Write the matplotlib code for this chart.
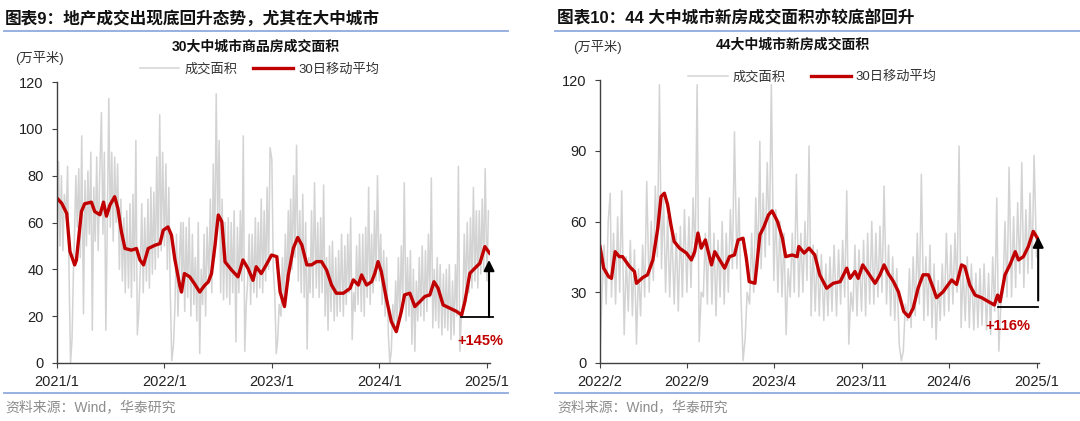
import matplotlib
matplotlib.use('Agg')
import matplotlib.pyplot as plt
from matplotlib.lines import Line2D
import numpy as np
import pandas as pd

plt.rcParams['font.family'] = ['Liberation Sans', 'Noto Sans CJK SC']

# ---------------- 图表9: 30大中城市 ----------------
# daily area every 5 days (6 per month), from 2021-01
grey9 = [
    55, 86, 50, 80, 48, 72,   # 2021-01
    62, 84, 38, 0, 10, 40,
    52, 80, 58, 83, 45, 97,
    21, 78, 50, 82, 55, 90,
    14, 75, 52, 88, 48, 80,
    107, 55, 90, 14, 60, 113,
    58, 90, 52, 88, 60, 85,
    40, 70, 35, 62, 30, 65,
    32, 68, 28, 72, 35, 95,
    12, 22, 40, 68, 30, 62,
    35, 70, 32, 75, 38, 73,
    40, 88, 45, 106, 48, 90,
    50, 85, 40, 75, 30, 1,    # 2022-01
    8, 25, 55, 20, 45, 60,
    30, 60, 22, 58, 28, 62,
    20, 55, 25, 45, 18, 60,
    4, 40, 25, 55, 20, 58,
    35, 70, 30, 85, 45, 115,
    60, 95, 30, 70, 27, 60,
    28, 62, 25, 60, 30, 65,
    9, 58, 30, 65, 35, 97,
    5, 25, 35, 55, 25, 55,
    30, 62, 28, 60, 32, 70,
    30, 65, 35, 75, 40, 92,
    87, 40, 30, 4, 10, 25,    # 2023-01
    20, 45, 25, 55, 30, 65,
    35, 70, 40, 80, 45, 93,
    35, 65, 30, 72, 28, 60,
    6, 45, 30, 65, 28, 77,
    32, 60, 28, 62, 30, 76,
    20, 45, 14, 50, 22, 52,
    18, 45, 20, 48, 22, 55,
    20, 50, 25, 55, 30, 62,
    10, 30, 22, 50, 25, 55,
    22, 55, 20, 58, 28, 75,
    25, 55, 30, 65, 35, 80,
    35, 55, 25, 48, 20, 45,   # 2024-01
    12, 0, 5, 25, 15, 35,
    15, 45, 20, 50, 25, 77,
    18, 45, 20, 48, 8, 40,
    5, 35, 18, 45, 20, 50,
    18, 48, 22, 55, 28, 79,
    15, 40, 18, 45, 15, 42,
    12, 38, 15, 40, 14, 42,
    10, 35, 12, 42, 20, 84,
    5, 20, 25, 55, 28, 60,
    30, 62, 32, 75, 35, 65,
    32, 65, 38, 70, 40, 83,
    35, 65,                   # 2025-01
]
grey9_start = '2021-01-01'

ma9_dates = [
    '2021-01-01', '2021-01-17', '2021-02-03', '2021-02-14', '2021-03-02', '2021-03-08',
    '2021-03-25', '2021-04-05', '2021-04-28', '2021-05-09', '2021-05-27', '2021-06-08',
    '2021-06-18', '2021-06-30', '2021-07-16', '2021-07-27', '2021-08-08', '2021-08-20',
    '2021-09-11', '2021-09-28', '2021-10-10', '2021-10-22', '2021-11-07', '2021-11-30',
    '2021-12-17', '2021-12-28', '2022-01-13', '2022-01-25', '2022-02-05', '2022-02-22',
    '2022-02-28', '2022-03-10', '2022-03-28', '2022-04-13', '2022-05-01', '2022-05-18',
    '2022-05-30', '2022-06-10', '2022-06-22', '2022-07-03', '2022-07-15', '2022-07-26',
    '2022-08-18', '2022-09-08', '2022-09-25', '2022-10-12', '2022-10-29', '2022-11-09',
    '2022-11-26', '2022-12-13', '2022-12-31', '2023-01-18', '2023-01-29', '2023-02-13',
    '2023-02-26', '2023-03-15', '2023-03-30', '2023-04-13', '2023-04-30', '2023-05-16',
    '2023-06-02', '2023-06-19', '2023-07-06', '2023-07-23', '2023-08-08', '2023-09-01',
    '2023-09-24', '2023-10-05', '2023-10-22', '2023-11-02', '2023-11-19', '2023-12-06',
    '2023-12-17', '2023-12-28', '2024-01-08', '2024-01-25', '2024-02-11', '2024-02-28',
    '2024-03-16', '2024-03-27', '2024-04-14', '2024-05-01', '2024-05-18', '2024-06-04',
    '2024-06-21', '2024-07-05', '2024-07-19', '2024-08-05', '2024-08-28', '2024-09-20',
    '2024-10-07', '2024-10-18', '2024-11-04', '2024-11-21', '2024-12-08', '2024-12-25',
    '2025-01-10',
]
ma9 = [
    70.4, 68.2, 63.9, 47.6, 41.9, 44.0, 64.7, 68.0, 68.7, 64.7, 63.3, 68.7,
    62.7, 67.5, 71.0, 66.0, 56.0, 48.9, 48.2, 48.9, 44.0, 41.9, 48.9, 50.3,
    51.0, 56.7, 58.1, 54.6, 44.6, 33.2, 30.3, 38.2, 36.8, 33.9, 30.3, 33.2,
    34.6, 38.2, 50.3, 63.2, 60.4, 43.2, 39.6, 36.8, 44.0, 40.4, 35.3, 41.1,
    38.2, 41.9, 46.1, 45.4, 30.4, 24.1, 37.6, 49.0, 53.6, 50.4, 41.9, 41.9,
    43.3, 43.3, 39.7, 33.3, 29.8, 29.8, 31.9, 35.5, 33.3, 37.6, 33.3, 34.7,
    38.3, 43.3, 39.0, 27.6, 17.7, 13.4, 22.0, 29.1, 29.8, 24.1, 26.2, 28.4,
    29.1, 34.7, 31.9, 24.8, 23.4, 22.0, 20.5, 26.2, 38.3, 40.5, 42.6, 49.7,
    46.9,
]
ticks9 = ['2021-01-01', '2022-01-01', '2023-01-01', '2024-01-01', '2025-01-01']
ticklabels9 = ['2021/1', '2022/1', '2023/1', '2024/1', '2025/1']
# rise marker: base level, arrow top, dates of the bracket
lift9 = (19.6, 44.0)
lift9_dates = ('2024-10-05', '2025-01-08', '2025-01-23')

# ---------------- 图表10: 44大中城市 ----------------
grey10 = [
    3, 30, 50, 25, 60, 72,    # 2022-02
    28, 55, 25, 62, 30, 73,
    12, 45, 22, 52, 20, 48,
    8, 40, 20, 50, 28, 77,
    30, 60, 35, 75, 45, 118,
    40, 70, 30, 62, 28, 58,
    25, 55, 22, 58, 28, 65,
    30, 62, 32, 70, 45, 118,
    9, 30, 28, 55, 25, 70,
    25, 55, 20, 52, 28, 60,
    25, 55, 30, 65, 40, 98,
    40, 70, 28, 1, 10, 30,    # 2023-01
    25, 55, 30, 70, 40, 94,
    40, 72, 45, 85, 50, 118,
    35, 65, 30, 60, 28, 55,
    12, 40, 28, 55, 30, 80,
    28, 55, 30, 60, 35, 92,
    20, 50, 22, 48, 20, 46,
    18, 42, 20, 45, 22, 50,
    20, 48, 25, 52, 28, 73,
    8, 30, 22, 50, 20, 48,
    22, 52, 20, 55, 25, 60,
    25, 55, 28, 58, 30, 75,
    25, 50, 20, 45, 18, 40,   # 2024-01
    8, 1, 5, 25, 18, 40,
    15, 45, 20, 55, 25, 80,
    18, 45, 20, 50, 15, 42,
    10, 35, 18, 42, 20, 55,
    22, 50, 25, 55, 30, 92,
    15, 40, 18, 45, 15, 42,
    14, 38, 15, 40, 16, 42,
    14, 38, 12, 45, 22, 70,
    5, 25, 30, 60, 28, 83,
    28, 62, 32, 68, 38, 85,
    32, 65, 38, 72, 40, 88,
    45,                       # 2025-01
]
grey10_start = '2022-02-01'

ma10_dates = [
    '2022-02-01', '2022-02-10', '2022-02-22', '2022-03-01', '2022-03-10', '2022-03-20',
    '2022-03-28', '2022-04-14', '2022-04-26', '2022-05-01', '2022-05-16', '2022-05-28',
    '2022-06-10', '2022-06-22', '2022-06-30', '2022-07-08', '2022-07-16', '2022-07-24',
    '2022-08-01', '2022-08-14', '2022-08-31', '2022-09-12', '2022-09-20', '2022-09-28',
    '2022-10-06', '2022-10-16', '2022-10-31', '2022-11-08', '2022-11-20', '2022-12-02',
    '2022-12-14', '2022-12-26', '2023-01-04', '2023-01-16', '2023-01-24', '2023-01-31',
    '2023-02-14', '2023-02-26', '2023-03-08', '2023-03-19', '2023-03-28', '2023-04-10',
    '2023-04-22', '2023-04-30', '2023-05-16', '2023-05-28', '2023-06-01', '2023-06-14',
    '2023-06-26', '2023-07-10', '2023-07-22', '2023-08-08', '2023-08-24', '2023-09-10',
    '2023-09-26', '2023-10-04', '2023-10-16', '2023-10-24', '2023-11-04', '2023-11-18',
    '2023-12-04', '2023-12-16', '2023-12-26', '2024-01-05', '2024-01-18', '2024-01-30',
    '2024-02-12', '2024-02-24', '2024-03-06', '2024-03-18', '2024-03-30', '2024-04-12',
    '2024-04-24', '2024-05-02', '2024-05-18', '2024-05-30', '2024-06-08', '2024-06-20',
    '2024-07-02', '2024-07-10', '2024-07-22', '2024-08-04', '2024-08-20', '2024-09-06',
    '2024-09-20', '2024-09-28', '2024-10-04', '2024-10-16', '2024-10-28', '2024-11-10',
    '2024-11-18', '2024-11-30', '2024-12-12', '2024-12-24', '2025-01-03',
]
ma10 = [
    49.4, 40.2, 36.6, 35.9, 47.2, 45.1, 45.1, 40.9, 38.8, 33.8, 36.2, 37.4,
    43.7, 57.2, 70.6, 72.0, 67.1, 58.6, 51.5, 48.7, 46.6, 43.7, 47.2, 55.1,
    48.7, 52.2, 41.6, 47.2, 43.7, 40.2, 45.1, 45.8, 52.2, 52.9, 44.4, 34.5,
    33.8, 54.3, 57.8, 62.8, 64.5, 60.0, 52.9, 45.1, 45.8, 45.1, 49.4, 46.6,
    48.7, 45.8, 37.4, 31.7, 33.8, 34.5, 40.2, 35.9, 38.8, 35.9, 41.6, 38.0,
    33.8, 37.4, 41.6, 38.0, 34.5, 30.2, 21.8, 19.6, 23.2, 31.7, 37.4, 37.4,
    31.7, 27.7, 30.2, 33.1, 35.2, 33.3, 41.6, 40.9, 33.1, 28.8, 27.7, 26.0,
    24.6, 28.8, 26.0, 37.4, 41.6, 47.2, 43.7, 45.1, 49.4, 55.8, 53.0,
]
ticks10 = ['2022-02-01', '2022-09-01', '2023-04-01', '2023-11-01', '2024-06-01', '2025-01-01']
ticklabels10 = ['2022/2', '2022/9', '2023/4', '2023/11', '2024/6', '2025/1']
lift10 = (23.6, 26.5, 53.6)
lift10_dates = ('2024-09-29', '2025-01-05', '2025-01-05')

GREY = '#d3d3d3'
RED = '#c00000'
AXC = '#404040'
BLUE = '#8faadc'


def grey_dates(start, n):
    # six readings per month, on days 1, 6, 11, 16, 21, 26
    months = pd.date_range(start, periods=n // 6 + 1, freq='MS')
    return [months[i // 6] + pd.Timedelta(days=5 * (i % 6)) for i in range(n)]


def style_axis(ax, yticks, ticks, labels):
    ax.set_ylim(0, 120)
    ax.set_yticks(yticks)
    ax.set_xticks(pd.to_datetime(ticks))
    ax.set_xticklabels(labels)
    for s in ['top', 'right']:
        ax.spines[s].set_visible(False)
    for s in ['left', 'bottom']:
        ax.spines[s].set_color(AXC)
        ax.spines[s].set_linewidth(1.0)
    ax.tick_params(axis='y', direction='out', length=3.5, width=0.8, color=AXC,
                   labelsize=10.5, pad=6, labelcolor='#222222')
    ax.tick_params(axis='x', direction='out', length=3.5, width=0.8, color=AXC,
                   labelsize=10.5, pad=5, labelcolor='#222222')


fig = plt.figure(figsize=(10.8, 4.21), dpi=100)

# ---- left panel ----
ax1 = fig.add_axes([57 / 1080, 58 / 421, 432.6 / 1080, 281 / 421])
g9 = pd.Series(grey9, index=grey_dates(grey9_start, len(grey9)))
m9 = pd.Series(ma9, index=pd.to_datetime(ma9_dates))
ax1.plot(g9.index, g9.values, color=GREY, lw=1.1, label='成交面积')
ax1.plot(m9.index, m9.values, color=RED, lw=2.4, label='30日移动平均')
style_axis(ax1, np.arange(0, 121, 20), ticks9, ticklabels9)
ax1.set_xlim(pd.Timestamp('2021-01-01'), pd.Timestamp('2025-01-10'))
ax1.legend(loc='center', bbox_to_anchor=(0.468, 1.043), ncol=2, frameon=False,
           fontsize=9.5, handlelength=3.0, handletextpad=0.4, columnspacing=1.2,
           labelcolor='#333333')
d0, d1, d2 = [pd.Timestamp(d) for d in lift9_dates]
ax1.plot([d0, d2], [lift9[0], lift9[0]], color='black', lw=1.3, clip_on=False)
ax1.annotate('', xy=(d1, lift9[1]), xytext=(d1, lift9[0]),
             arrowprops=dict(arrowstyle='-|>', color='black', lw=1.5,
                             mutation_scale=16, shrinkA=0, shrinkB=0),
             annotation_clip=False)
ax1.annotate('+145%', xy=(d1, lift9[0]), xytext=(-6, -17), textcoords='offset points',
             ha='center', va='center', color=RED, fontsize=10.5, fontweight='bold')

# ---- right panel ----
ax2 = fig.add_axes([600 / 1080, 58 / 421, 439 / 1080, 283 / 421])
g10 = pd.Series(grey10, index=grey_dates(grey10_start, len(grey10)))
m10 = pd.Series(ma10, index=pd.to_datetime(ma10_dates))
ax2.plot(g10.index, g10.values, color=GREY, lw=1.1, label='成交面积')
ax2.plot(m10.index, m10.values, color=RED, lw=2.4, label='30日移动平均')
style_axis(ax2, np.arange(0, 121, 30), ticks10, ticklabels10)
ax2.set_xlim(pd.Timestamp('2022-02-01'), pd.Timestamp('2025-01-07'))
ax2.legend(loc='center', bbox_to_anchor=(0.484, 1.01), ncol=2, frameon=False,
           fontsize=9.5, handlelength=3.0, handletextpad=0.4, columnspacing=1.9,
           labelcolor='#333333')
e0, e1, e2 = [pd.Timestamp(d) for d in lift10_dates]
ax2.plot([e0, e2], [lift10[0], lift10[0]], color='black', lw=1.3, clip_on=False)
ax2.annotate('', xy=(e1, lift10[2]), xytext=(e1, lift10[1]),
             arrowprops=dict(arrowstyle='-|>', color='black', lw=1.5,
                             mutation_scale=16, shrinkA=0, shrinkB=0),
             annotation_clip=False)
ax2.annotate('+116%', xy=(e1, lift10[0]), xytext=(-21.5, -13.5), textcoords='offset points',
             ha='center', va='center', color=RED, fontsize=10.5, fontweight='bold')

# ---- page furniture ----
def fy(py):
    return 1 - py / 421


fig.text(5 / 1080, fy(18), '图表9：地产成交出现底回升态势，尤其在大中城市',
         fontsize=12, fontweight='bold', va='center', ha='left', color='#111111')
fig.text(557 / 1080, fy(18), '图表10：44 大中城市新房成交面积亦较底部回升',
         fontsize=12, fontweight='bold', va='center', ha='left', color='#111111')
for x0, x1 in [(4, 508), (555, 1080)]:
    fig.add_artist(Line2D([x0 / 1080, x1 / 1080], [fy(31), fy(31)], color=BLUE, lw=1.3,
                          transform=fig.transFigure))
    fig.add_artist(Line2D([x0 / 1080, x1 / 1080], [fy(393), fy(393)], color=BLUE, lw=1.3,
                          transform=fig.transFigure))

fig.text(256 / 1080, fy(47), '30大中城市商品房成交面积', fontsize=10, fontweight='bold',
         ha='center', va='center', color='#111111')
fig.text(793 / 1080, fy(45), '44大中城市新房成交面积', fontsize=10, fontweight='bold',
         ha='center', va='center', color='#111111')
fig.text(15 / 1080, fy(58), '(万平米)', fontsize=9.5, ha='left', va='center', color='#333333')
fig.text(573 / 1080, fy(47), '(万平米)', fontsize=9.5, ha='left', va='center', color='#333333')
fig.text(5 / 1080, fy(407), '资料来源：Wind，华泰研究', fontsize=10, ha='left', va='center',
         color='#8c8c8c')
fig.text(557 / 1080, fy(407), '资料来源：Wind，华泰研究', fontsize=10, ha='left', va='center',
         color='#8c8c8c')

fig.savefig('out.png', dpi=100)
